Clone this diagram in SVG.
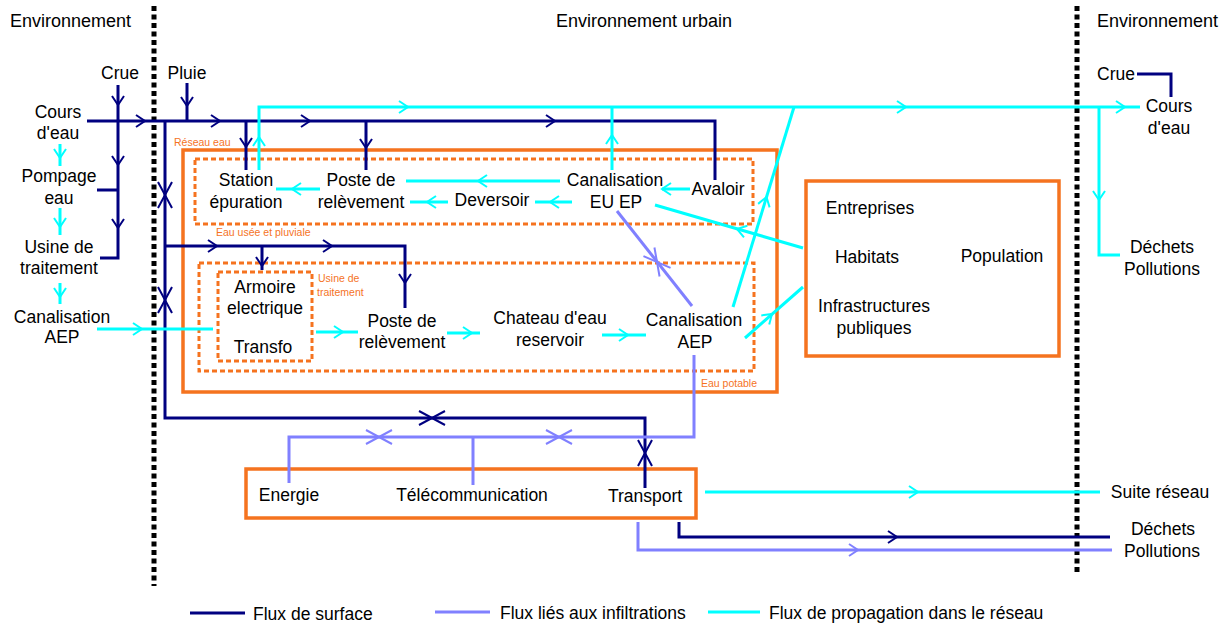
<svg xmlns="http://www.w3.org/2000/svg" width="1230" height="628" viewBox="0 0 1230 628">
<style>
text{font-family:"Liberation Sans",Arial,sans-serif;font-size:17.5px;fill:#000}
.h{font-size:18px}
.c{text-anchor:middle}
.lbl{font-size:10.5px;fill:#F5731F}
.sep{stroke:#000;stroke-width:5;stroke-dasharray:5 3.5;fill:none}
.box{fill:none;stroke:#F5731F;stroke-width:3.5}
.dbox{fill:none;stroke:#F5731F;stroke-width:3;stroke-dasharray:5 3}
.n{stroke:#000080;stroke-width:3;fill:none}
.p{stroke:#8080FF;stroke-width:3;fill:none}
.y{stroke:#00FFFF;stroke-width:3;fill:none}
.a{stroke-width:2}
</style>
<defs>
<path id="ah" d="M-9,-6 L0,0 L-9,6" fill="none"/>
<path id="xm" d="M-13,-7 L13,7 M-13,7 L13,-7" fill="none"/>
</defs>
<rect width="1230" height="628" fill="#fff"/>

<g id="separators">
<line class="sep" x1="154" y1="6" x2="154" y2="586"/>
<line class="sep" x1="1077" y1="6" x2="1077" y2="573"/>
</g>

<g id="headers">
<text class="h" x="10" y="27">Environnement</text>
<text class="h c" x="644" y="27">Environnement urbain</text>
<text class="h" x="1097" y="27">Environnement</text>
</g>

<g id="reseau-eau">
<rect class="box" x="183" y="150" width="594" height="242"/>
<text class="lbl" x="174" y="146">Réseau eau</text>
</g>
<g id="eau-usee">
<rect class="dbox" x="195" y="159" width="558" height="65"/>
<text class="lbl" x="216" y="236">Eau usée et pluviale</text>
</g>
<g id="eau-potable">
<rect class="dbox" x="199" y="263" width="555" height="108"/>
<text class="lbl" x="757" y="387" text-anchor="end">Eau potable</text>
</g>
<g id="usine-box">
<rect class="dbox" x="218" y="272" width="94" height="89"/>
<text class="lbl" x="318" y="282">Usine de</text>
<text class="lbl" x="317" y="296">traitement</text>
</g>
<g id="population-box">
<rect class="box" x="806" y="181" width="253" height="175"/>
</g>
<g id="reseaux-box">
<rect class="box" x="246" y="469" width="450" height="49"/>
</g>

<g id="connectors">
<!-- surface flows -->
<path class="n" d="M87,121 H715 V180"/>
<path class="n" d="M118,85 V258 H100 M97,190 H118"/>
<path class="n" d="M187,83 V121"/>
<path class="n" d="M246,121 V170 M366,121 V170"/>
<path class="n" d="M165,121 V418 H645 V488"/>
<path class="n" d="M165,246 H405 V308 M262,246 V270"/>
<path class="n" d="M679,522 V537 H1110"/>
<path class="n" d="M1137,74 H1171 V97"/>
<!-- infiltration flows -->
<path class="p" d="M694,355 V437 H289 V483 M473,437 V485"/>
<path class="p" d="M617,211 L692,306"/>
<path class="p" d="M638,522 V550 H1112"/>
<!-- propagation flows -->
<path class="y" d="M259,170 V107 H1140"/>
<path class="y" d="M612,170 V107"/>
<path class="y" d="M733,307 L794,107"/>
<path class="y" d="M1099,107 V255 H1120"/>
<path class="y" d="M690,189 H662 M560,181 H406 M572,202 H535 M448,202 H410 M320,189 H276"/>
<path class="y" d="M97,329 H213 M316,332 H358 M447,333 H480 M602,335 H646"/>
<path class="y" d="M655,205 L803,248 M745,338 L803,287"/>
<path class="y" d="M705,492 H1100"/>
<path class="y" d="M60,144 V166 M60,208 V235 M60,283 V304"/>

<!-- navy arrowheads -->
<use href="#ah" class="n a" transform="translate(118,105) rotate(90)"/>
<use href="#ah" class="n a" transform="translate(118,165) rotate(90)"/>
<use href="#ah" class="n a" transform="translate(118,228) rotate(90)"/>
<use href="#ah" class="n a" transform="translate(187,106) rotate(90)"/>
<use href="#ah" class="n a" transform="translate(145,121)"/>
<use href="#ah" class="n a" transform="translate(220,121)"/>
<use href="#ah" class="n a" transform="translate(310,121)"/>
<use href="#ah" class="n a" transform="translate(555,121)"/>
<use href="#ah" class="n a" transform="translate(246,147) rotate(90)"/>
<use href="#ah" class="n a" transform="translate(366,148) rotate(90)"/>
<use href="#ah" class="n a" transform="translate(217,246)"/>
<use href="#ah" class="n a" transform="translate(332,246)"/>
<use href="#ah" class="n a" transform="translate(262,266) rotate(90)"/>
<use href="#ah" class="n a" transform="translate(405,283) rotate(90)"/>
<use href="#ah" class="n a" transform="translate(897,537)"/>
<use href="#xm" class="n a" transform="translate(165,195) rotate(90)"/>
<use href="#xm" class="n a" transform="translate(165,300) rotate(90)"/>
<use href="#xm" class="n a" transform="translate(432,418)"/>
<use href="#xm" class="n a" transform="translate(645,453) rotate(90)"/>
<!-- purple arrowheads -->
<use href="#xm" class="p a" transform="translate(379,437)"/>
<use href="#xm" class="p a" transform="translate(559,437)"/>
<use href="#xm" class="p a" transform="translate(657,262) rotate(51.7)"/>
<use href="#ah" class="p a" transform="translate(858,550)"/>
<!-- cyan arrowheads -->
<use href="#ah" class="y a" transform="translate(60,158) rotate(90)"/>
<use href="#ah" class="y a" transform="translate(60,227) rotate(90)"/>
<use href="#ah" class="y a" transform="translate(60,297) rotate(90)"/>
<use href="#ah" class="y a" transform="translate(259,137) rotate(-90)"/>
<use href="#ah" class="y a" transform="translate(408,107)"/>
<use href="#ah" class="y a" transform="translate(906,107)"/>
<use href="#ah" class="y a" transform="translate(1125,107)"/>
<use href="#ah" class="y a" transform="translate(612,135) rotate(-90)"/>
<use href="#ah" class="y a" transform="translate(766.5,197) rotate(-73)"/>
<use href="#ah" class="y a" transform="translate(1099,200) rotate(90)"/>
<use href="#ah" class="y a" transform="translate(662,189) rotate(180)"/>
<use href="#ah" class="y a" transform="translate(478,181) rotate(180)"/>
<use href="#ah" class="y a" transform="translate(550,202) rotate(180)"/>
<use href="#ah" class="y a" transform="translate(427,202) rotate(180)"/>
<use href="#ah" class="y a" transform="translate(292,189) rotate(180)"/>
<use href="#ah" class="y a" transform="translate(142,329)"/>
<use href="#ah" class="y a" transform="translate(343,332)"/>
<use href="#ah" class="y a" transform="translate(472,333)"/>
<use href="#ah" class="y a" transform="translate(628,335)"/>
<use href="#ah" class="y a" transform="translate(737,229) rotate(196.2)"/>
<use href="#ah" class="y a" transform="translate(772,314) rotate(-41.3)"/>
<use href="#ah" class="y a" transform="translate(918,492)"/>
</g>

<g id="crue-left"><text class="c" x="120" y="79">Crue</text></g>
<g id="pluie"><text class="c" x="187" y="79">Pluie</text></g>
<g id="cours-eau-left"><text class="c" x="58" y="118">Cours</text><text class="c" x="58" y="139">d'eau</text></g>
<g id="pompage"><text class="c" x="59" y="182">Pompage</text><text class="c" x="59" y="204">eau</text></g>
<g id="usine"><text class="c" x="59" y="253">Usine de</text><text class="c" x="59" y="274">traitement</text></g>
<g id="canalisation-aep-left"><text class="c" x="62" y="323">Canalisation</text><text class="c" x="62" y="343">AEP</text></g>
<g id="station"><text class="c" x="246" y="186">Station</text><text class="c" x="246" y="208">épuration</text></g>
<g id="poste1"><text class="c" x="361" y="186">Poste de</text><text class="c" x="361" y="208">relèvement</text></g>
<g id="deversoir"><text class="c" x="492" y="206">Deversoir</text></g>
<g id="canalisation-euep"><text class="c" x="615" y="186">Canalisation</text><text class="c" x="616" y="208">EU EP</text></g>
<g id="avaloir"><text class="c" x="718" y="195">Avaloir</text></g>
<g id="armoire"><text class="c" x="265" y="293">Armoire</text><text class="c" x="265" y="314">electrique</text><text class="c" x="263" y="353">Transfo</text></g>
<g id="poste2"><text class="c" x="402" y="327">Poste de</text><text class="c" x="402" y="348">relèvement</text></g>
<g id="chateau"><text class="c" x="550" y="324">Chateau d'eau</text><text class="c" x="550" y="346">reservoir</text></g>
<g id="canalisation-aep"><text class="c" x="694" y="326">Canalisation</text><text class="c" x="695" y="348">AEP</text></g>
<g id="population">
<text class="c" x="870" y="214">Entreprises</text>
<text class="c" x="867" y="263">Habitats</text>
<text class="c" x="1002" y="262">Population</text>
<text class="c" x="874" y="312">Infrastructures</text>
<text class="c" x="874" y="334">publiques</text>
</g>
<g id="crue-right"><text class="c" x="1116" y="80">Crue</text></g>
<g id="cours-eau-right"><text class="c" x="1169" y="112">Cours</text><text class="c" x="1169" y="134">d'eau</text></g>
<g id="dechets-top"><text class="c" x="1162" y="253">Déchets</text><text class="c" x="1162" y="275">Pollutions</text></g>
<g id="energie"><text class="c" x="289" y="501">Energie</text></g>
<g id="telecom"><text class="c" x="472" y="501">Télécommunication</text></g>
<g id="transport"><text class="c" x="645" y="502">Transport</text></g>
<g id="suite-reseau"><text class="c" x="1160" y="498">Suite réseau</text></g>
<g id="dechets-bottom"><text class="c" x="1163" y="535">Déchets</text><text class="c" x="1162" y="557">Pollutions</text></g>

<g id="legend">
<line class="n" x1="190" y1="613" x2="245" y2="613"/>
<text x="253" y="620">Flux de surface</text>
<line class="p" x1="435" y1="612" x2="490" y2="612"/>
<text x="500" y="619">Flux liés aux infiltrations</text>
<line class="y" x1="708" y1="612" x2="760" y2="612"/>
<text x="769" y="619">Flux de propagation dans le réseau</text>
</g>
</svg>
